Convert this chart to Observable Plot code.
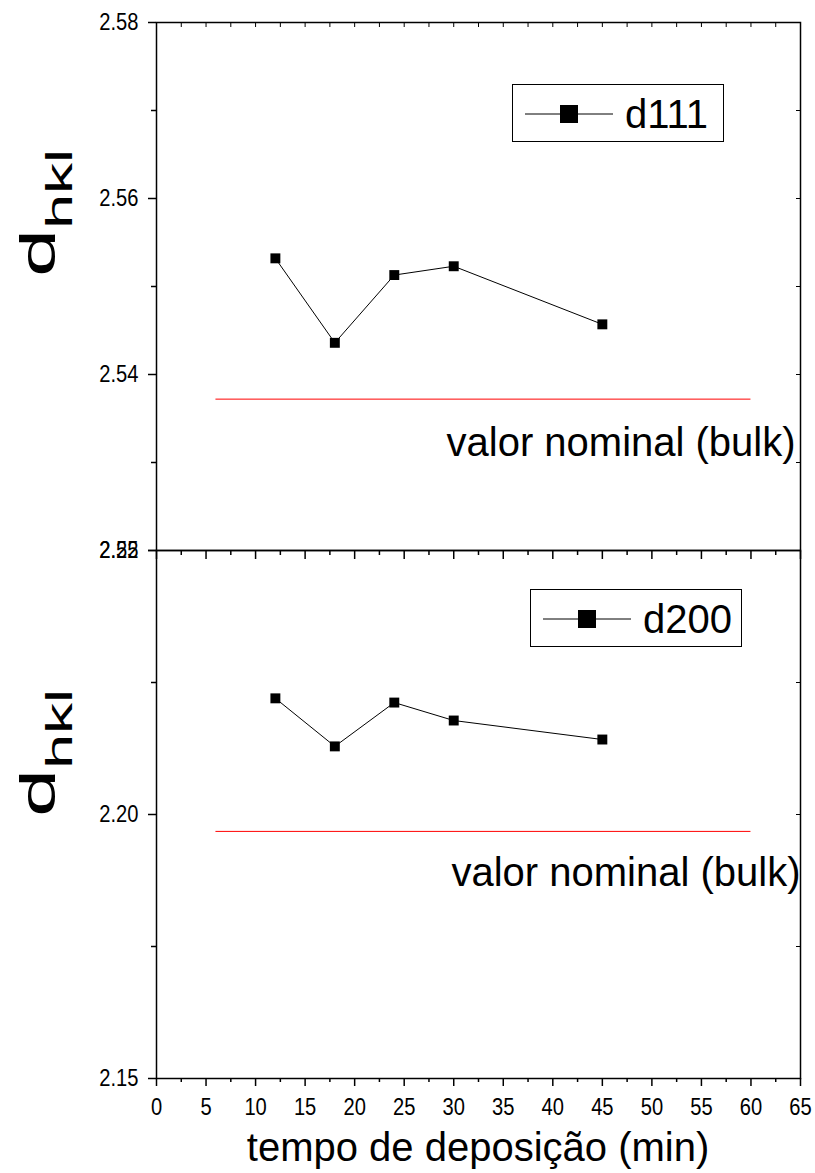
<!DOCTYPE html>
<html><head><meta charset="utf-8">
<script src="https://cdn.jsdelivr.net/npm/d3@7"></script>
<script src="https://cdn.jsdelivr.net/npm/@observablehq/plot@0.6"></script>
<style>
body{margin:0;background:#fff;font-family:"Liberation Sans",Arial,sans-serif;}
#wrap{position:relative;width:815px;height:1173px;overflow:hidden;background:#fff;}
#wrap svg{position:absolute;left:0;}
.legend{position:absolute;border:1.5px solid #000;background:#fff;box-sizing:border-box;width:212px;height:58px;}
.legend svg{position:absolute;left:0;top:0;}
.xlab{position:absolute;left:156px;width:644px;text-align:center;font-size:40px;top:1127px;line-height:1;}
</style></head>
<body>
<div id="wrap"></div>
<script>
// ---- data ----
const times = [12, 18, 24, 30, 45];
const d111 = [2.5532, 2.5436, 2.5513, 2.5523, 2.5457];
const d200 = [2.2220, 2.2129, 2.2212, 2.2178, 2.2142];
const nominal111 = 2.5372;
const nominal200 = 2.1968;
const nominalStart = 6;
const nominalEnd = 60;
const xTickLabels = [0, 5, 10, 15, 20, 25, 30, 35, 40, 45, 50, 55, 60, 65];
const xMinorTicks = [2.5, 7.5, 12.5, 17.5, 22.5, 27.5, 32.5, 37.5, 42.5, 47.5, 52.5, 57.5, 62.5];
const yTicksTop = [2.52, 2.54, 2.56, 2.58];
const yMinorTop = [2.53, 2.55, 2.57];
const yTicksBottom = [2.15, 2.20, 2.25];
const yMinorBottom = [2.175, 2.225];
const seriesNames = ["d111", "d200"];
const annotationLabel = "valor nominal (bulk)";
const annotTopPos = {x: 64.5, y: 2.5322};
const annotBottomPos = {x: 65, y: 2.1888};

const rows111 = times.map((t, i) => ({t, d: d111[i]}));
const rows200 = times.map((t, i) => ({t, d: d200[i]}));

const FONT = '"Liberation Sans", Arial, sans-serif';
const blank = () => "";
const fmt2 = d3.format(".2f");
const common = {
  width: 815, marginLeft: 156, marginRight: 15,
  x: {domain: [0, 65]},
  style: {overflow: "visible", background: "transparent", fontFamily: FONT, fontSize: "21px", color: "#000"}
};

function seriesMarks(rows, nominal, annotPos) {
  return [
    Plot.ruleY([{y: nominal, x1: nominalStart, x2: nominalEnd}], {y: "y", x1: "x1", x2: "x2", stroke: "#ff0000", strokeWidth: 1}),
    Plot.line(rows, {x: "t", y: "d", stroke: "#000", strokeWidth: 1}),
    Plot.dot(rows, {x: "t", y: "d", symbol: "square", r: 5.6, fill: "#000", stroke: null}),
    Plot.text([{...annotPos, text: annotationLabel}], {x: "x", y: "y", text: "text", textAnchor: "end", lineAnchor: "middle", fontSize: 40, fill: "#000"}),
    Plot.frame({stroke: "#000", strokeWidth: 1.5})
  ];
}
function yLabels(ticks) {
  return Plot.text(ticks, {y: d => d, text: d => fmt2(d), frameAnchor: "left", dx: -18, textAnchor: "end", lineAnchor: "middle", fontSize: 24, fill: "#000", className: "ticklab"});
}

const topPlot = Plot.plot({
  ...common, height: 550, marginTop: 22, marginBottom: 0,
  y: {domain: [2.52, 2.58]},
  marks: [
    ...seriesMarks(rows111, nominal111, annotTopPos),
    Plot.axisY({ticks: yTicksTop, tickSize: 8, tickFormat: blank, label: null, strokeWidth: 1.5}),
    Plot.axisY({ticks: yMinorTop, tickSize: 5, tickFormat: blank, label: null, strokeWidth: 1.5}),
    Plot.axisY({anchor: "right", ticks: [...yTicksTop, ...yMinorTop], tickSize: -5, tickFormat: blank, label: null}),
    Plot.axisX({anchor: "top", ticks: [...xTickLabels, ...xMinorTicks], tickSize: -4, tickFormat: blank, label: null}),
    yLabels(yTicksTop)
  ]
});

const bottomPlot = Plot.plot({
  ...common, height: 623, marginTop: 0, marginBottom: 95,
  y: {domain: [2.15, 2.25]},
  marks: [
    ...seriesMarks(rows200, nominal200, annotBottomPos),
    Plot.axisY({ticks: yTicksBottom, tickSize: 8, tickFormat: blank, label: null, strokeWidth: 1.5}),
    Plot.axisY({ticks: yMinorBottom, tickSize: 5, tickFormat: blank, label: null, strokeWidth: 1.5}),
    Plot.axisY({anchor: "right", ticks: [...yTicksBottom, ...yMinorBottom], tickSize: -5, tickFormat: blank, label: null}),
    Plot.axisX({anchor: "top", ticks: xTickLabels, tickSize: -8, tickFormat: blank, label: null, strokeWidth: 1.5}),
    Plot.axisX({anchor: "top", ticks: xMinorTicks, tickSize: -4, tickFormat: blank, label: null, strokeWidth: 1.5}),
    Plot.axisX({ticks: xTickLabels, tickSize: 8, tickFormat: blank, label: null, strokeWidth: 1.5}),
    Plot.axisX({ticks: xMinorTicks, tickSize: 4, tickFormat: blank, label: null, strokeWidth: 1.5}),
    yLabels(yTicksBottom),
    Plot.text(xTickLabels, {x: d => d, text: d => String(d), frameAnchor: "bottom", dy: 19, lineAnchor: "top", fontSize: 24, fill: "#000", className: "ticklab"})
  ]
});

const wrap = document.getElementById("wrap");
topPlot.style.top = "0px";
bottomPlot.style.top = "550px";
wrap.appendChild(topPlot);
wrap.appendChild(bottomPlot);

// condense tick label glyphs (narrow face look)
d3.select(wrap).selectAll(".ticklab text").each(function() {
  const w = this.getComputedTextLength();
  if (w > 0) {
    this.setAttribute("textLength", (w * 0.84).toFixed(1));
    this.setAttribute("lengthAdjust", "spacingAndGlyphs");
  }
});

function legend(name, left, top) {
  const div = document.createElement("div");
  div.className = "legend";
  div.style.left = left + "px";
  div.style.top = top + "px";
  div.innerHTML = `<svg width="212" height="58">
    <line x1="12" x2="100" y1="29" y2="29" stroke="#000" stroke-width="1"/>
    <rect x="47" y="20" width="18" height="18" fill="#000"/>
    <text x="112" y="43" font-size="40" font-family='${FONT}' fill="#000">${name}</text></svg>`;
  wrap.appendChild(div);
}
legend(seriesNames[0], 512, 84);
legend(seriesNames[1], 530, 589);

// y-axis titles: d with subscript hkl, stretched along the reading direction
const ns = "http://www.w3.org/2000/svg";
const ysvg = document.createElementNS(ns, "svg");
ysvg.setAttribute("width", 100);
ysvg.setAttribute("height", 1173);
ysvg.style.top = "0px";
ysvg.style.pointerEvents = "none";
function ylabel(startY) {
  const t = document.createElementNS(ns, "text");
  t.setAttribute("transform", `translate(55,${startY}) rotate(-90)`);
  t.setAttribute("font-family", FONT);
  t.setAttribute("font-size", 50);
  t.setAttribute("fill", "#000");
  t.setAttribute("textLength", 128);
  t.setAttribute("lengthAdjust", "spacingAndGlyphs");
  t.innerHTML = '<tspan>d</tspan><tspan font-size="36" dy="17">hkl</tspan>';
  ysvg.appendChild(t);
}
ylabel(277);
ylabel(817);
wrap.appendChild(ysvg);

const xl = document.createElement("div");
xl.className = "xlab";
xl.textContent = "tempo de deposição (min)";
wrap.appendChild(xl);
</script>
</body></html>
